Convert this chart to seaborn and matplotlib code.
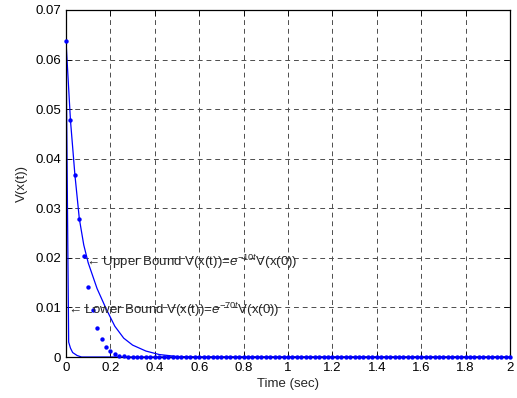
import matplotlib
matplotlib.use("Agg")
import matplotlib.pyplot as plt
import seaborn as sns
import pandas as pd

# Sampled Lyapunov function V(x(t)), one sample every 0.02 s from 0 to 2 s
t_samples = [round(0.02 * i, 2) for i in range(101)]
v_samples = [
    0.0637, 0.0478, 0.0368, 0.0278, 0.0203, 0.0141, 0.0094, 0.0058, 0.0036, 0.0021,
    0.0012, 0.0006, 0.0003, 0.0002, 0.0001, 0.0001, 0.0, 0.0, 0.0, 0.0,
    0.0, 0.0, 0.0, 0.0, 0.0, 0.0, 0.0, 0.0, 0.0, 0.0,
    0.0, 0.0, 0.0, 0.0, 0.0, 0.0, 0.0, 0.0, 0.0, 0.0,
    0.0, 0.0, 0.0, 0.0, 0.0, 0.0, 0.0, 0.0, 0.0, 0.0,
    0.0, 0.0, 0.0, 0.0, 0.0, 0.0, 0.0, 0.0, 0.0, 0.0,
    0.0, 0.0, 0.0, 0.0, 0.0, 0.0, 0.0, 0.0, 0.0, 0.0,
    0.0, 0.0, 0.0, 0.0, 0.0, 0.0, 0.0, 0.0, 0.0, 0.0,
    0.0, 0.0, 0.0, 0.0, 0.0, 0.0, 0.0, 0.0, 0.0, 0.0,
    0.0, 0.0, 0.0, 0.0, 0.0, 0.0, 0.0, 0.0, 0.0, 0.0,
    0.0,
]

# Upper bound curve
t_upper = [0.0, 0.02, 0.04, 0.06, 0.08, 0.10, 0.14, 0.18, 0.22, 0.26, 0.30, 0.36, 0.42, 0.50, 0.60, 2.0]
v_upper = [0.0637, 0.0478, 0.0368, 0.0279, 0.0226, 0.0190, 0.0138, 0.0098, 0.0062, 0.0038,
           0.0024, 0.0012, 0.0005, 0.0001, 0.0, 0.0]

# Lower bound curve
t_lower = [0.0, 0.012, 0.02, 0.03, 0.05, 0.07, 2.0]
v_lower = [0.0637, 0.0030, 0.0018, 0.0009, 0.0003, 0.0, 0.0]

x_ticks = [0, 0.2, 0.4, 0.6, 0.8, 1.0, 1.2, 1.4, 1.6, 1.8, 2.0]
x_labels = ["0", "0.2", "0.4", "0.6", "0.8", "1", "1.2", "1.4", "1.6", "1.8", "2"]
y_ticks = [0, 0.01, 0.02, 0.03, 0.04, 0.05, 0.06, 0.07]
y_labels = ["0", "0.01", "0.02", "0.03", "0.04", "0.05", "0.06", "0.07"]

sns.set_style("ticks")
plt.rcParams["font.family"] = ["Liberation Sans", "DejaVu Sans"]
plt.rcParams["mathtext.fontset"] = "custom"
plt.rcParams["mathtext.rm"] = "Liberation Sans"
plt.rcParams["mathtext.it"] = "Liberation Sans:italic"

fig = plt.figure(figsize=(5.17, 3.98), dpi=100)
ax = fig.add_axes([66 / 517, 41 / 398, 444 / 517, 347 / 398])

samples = pd.DataFrame({"t": t_samples, "V": v_samples})
upper = pd.DataFrame({"t": t_upper, "V": v_upper})
lower = pd.DataFrame({"t": t_lower, "V": v_lower})

blue = (0, 0, 1)
sns.lineplot(data=upper, x="t", y="V", ax=ax, color=blue, lw=0.9, estimator=None, sort=False)
sns.lineplot(data=lower, x="t", y="V", ax=ax, color=blue, lw=0.9, estimator=None, sort=False)
sns.scatterplot(data=samples, x="t", y="V", ax=ax, color=blue, s=10, linewidth=0,
                zorder=3, clip_on=False)

ax.set_xlim(0, 2)
ax.set_ylim(0, 0.07)
ax.set_xticks(x_ticks)
ax.set_xticklabels(x_labels)
ax.set_yticks(y_ticks)
ax.set_yticklabels(y_labels)
ax.tick_params(direction="in", length=4, width=0.6, labelsize=9.5, top=True, right=True,
               colors="black")
ax.grid(True, color="0.3", linestyle=(0, (5, 4)), linewidth=0.7)
ax.set_axisbelow(True)
for sp in ax.spines.values():
    sp.set_visible(True)
    sp.set_color("black")
    sp.set_linewidth(0.9)

ax.set_xlabel("Time (sec)", fontsize=9.5, labelpad=3)
ax.set_ylabel("V(x(t))", fontsize=9.5, labelpad=5)

ax.text(0.088, 0.0192, "\u2190 Upper Bound V(x(t))=$\\mathit{e}^{-10t}$V(x(0))",
        fontsize=9.5, ha="left", va="center", zorder=4)
ax.text(0.008, 0.0095, "\u2190 Lower Bound V(x(t))=$\\mathit{e}^{-70t}$V(x(0))",
        fontsize=9.5, ha="left", va="center", zorder=4)

fig.savefig("out.png", dpi=100)
